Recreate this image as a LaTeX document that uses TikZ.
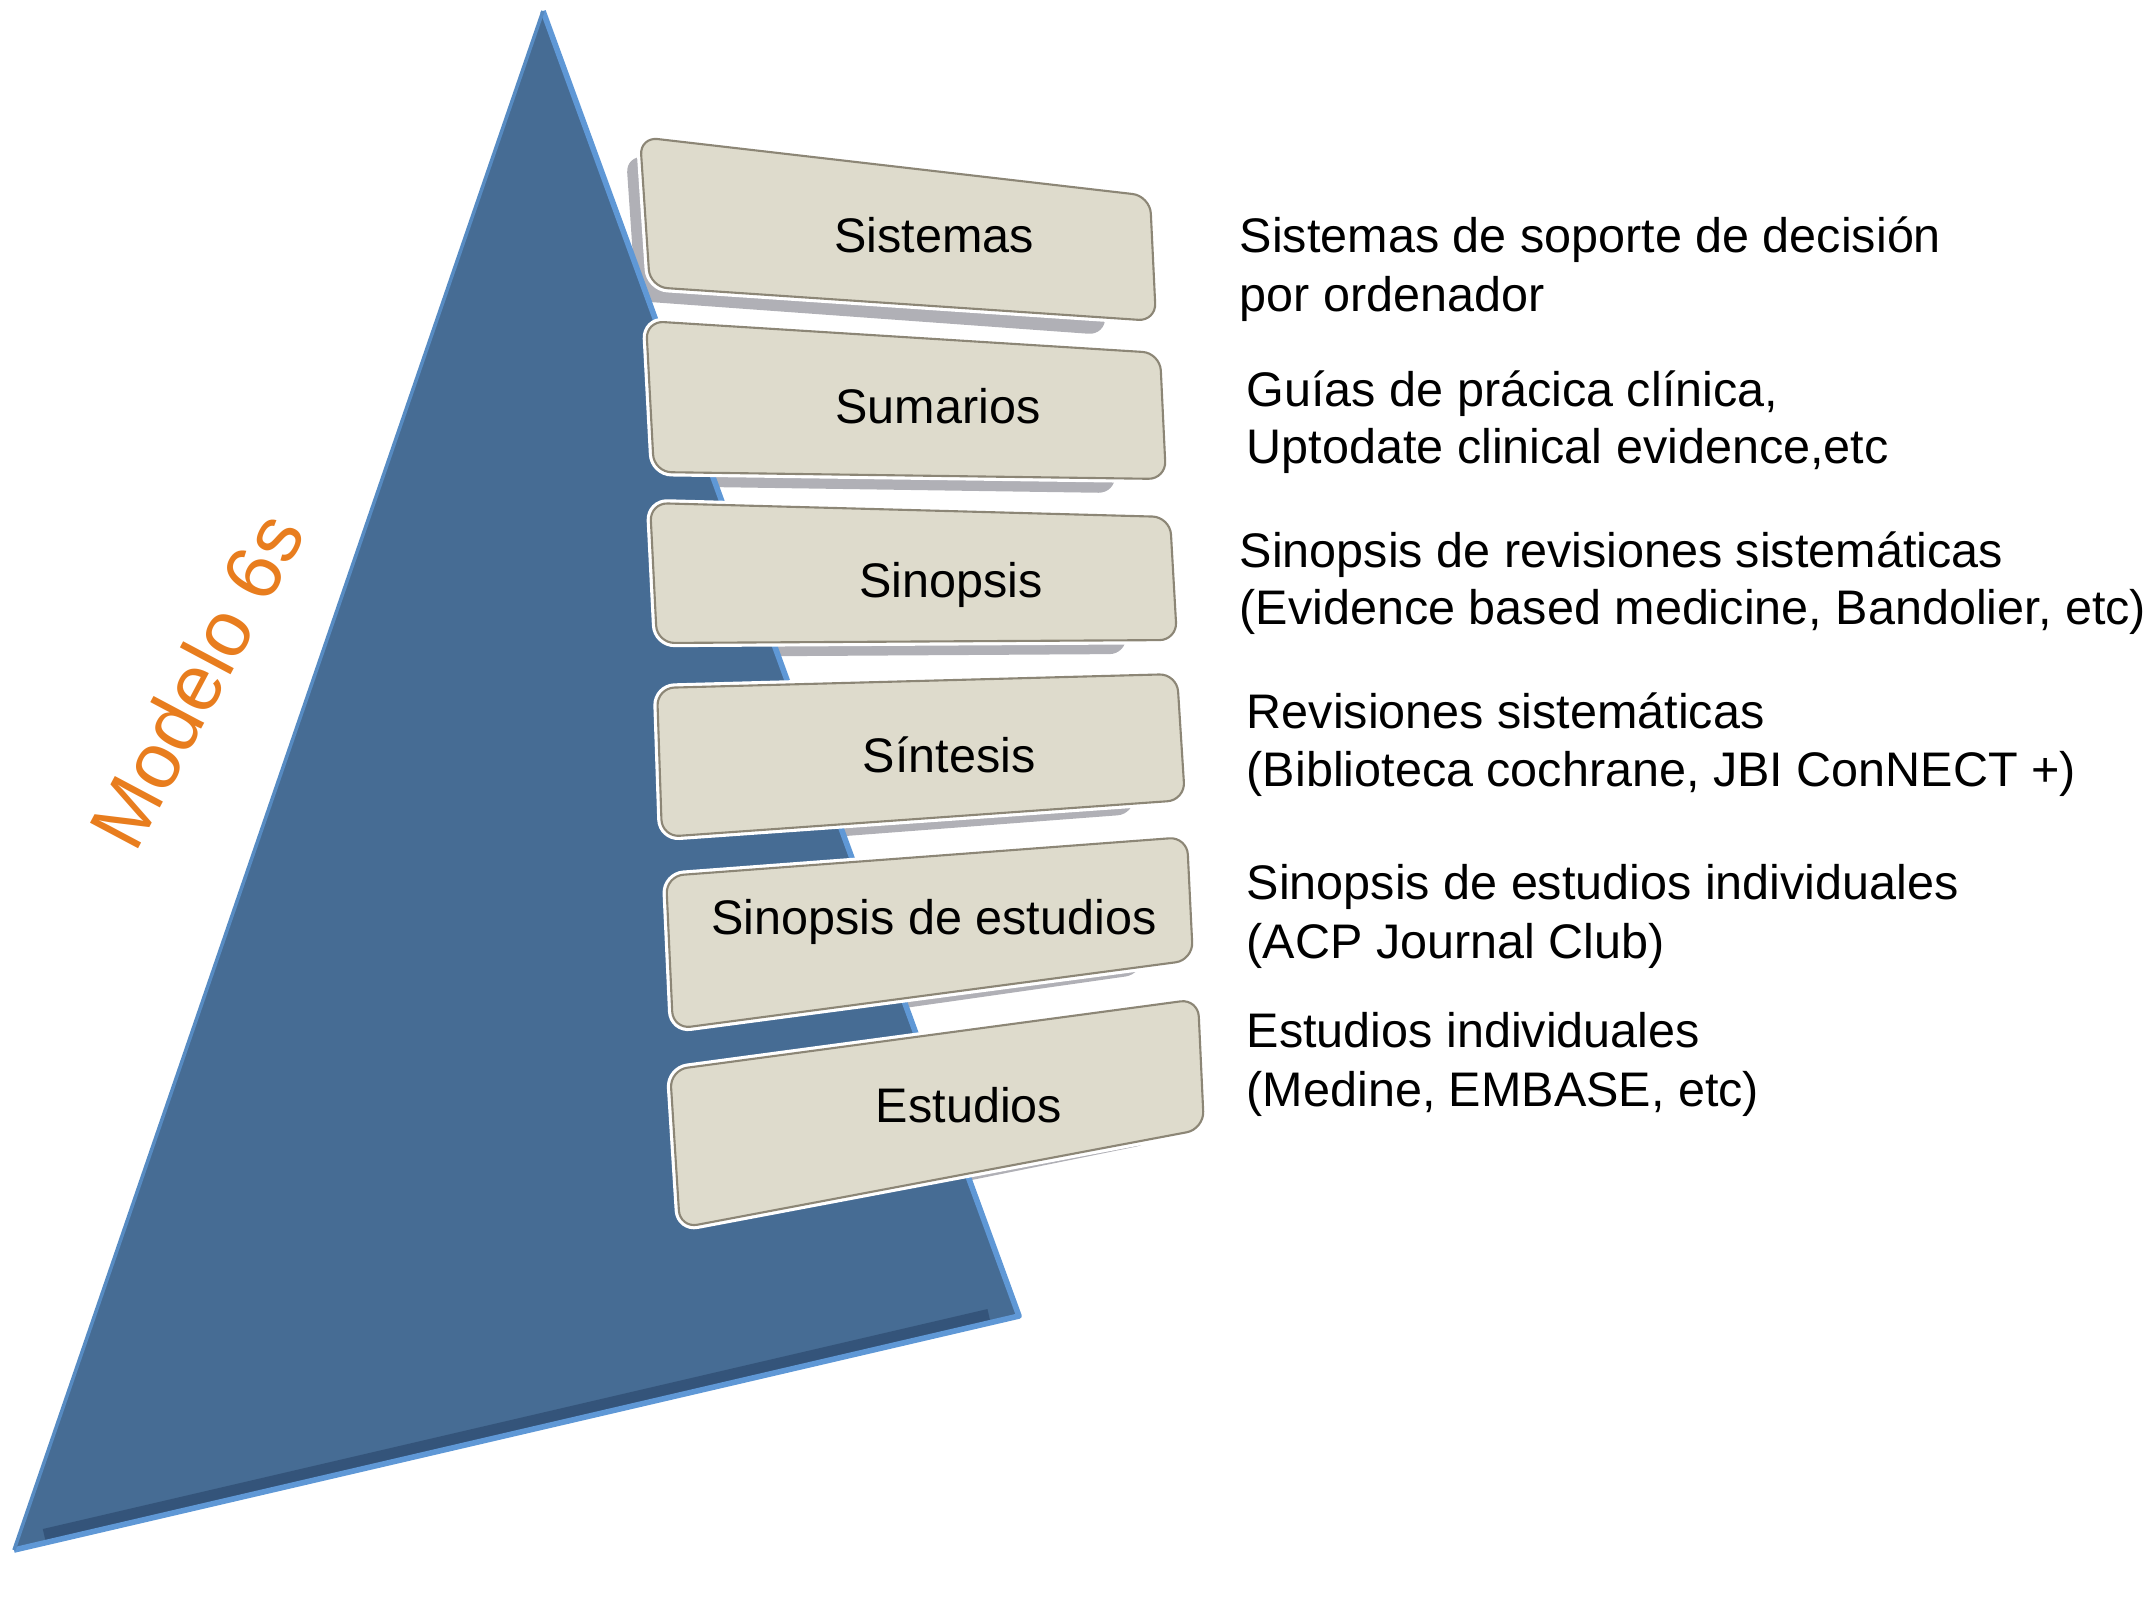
\documentclass[tikz,border=0pt]{standalone}
\usepackage{fontspec}
\setmainfont{Liberation Sans}
\usetikzlibrary{calc}
\definecolor{triblue}{RGB}{70,108,148}
\definecolor{trilight}{RGB}{95,152,214}
\definecolor{tridark}{RGB}{36,62,98}
\definecolor{boxfill}{RGB}{222,219,204}
\definecolor{boxline}{RGB}{140,134,118}
\definecolor{shadowgray}{RGB}{176,176,182}
\definecolor{modelo}{RGB}{232,125,30}
\newcommand\lvlshadow[4]{%
  \fill[shadowgray,rounded corners=5pt] ($(#1)+(-14,18)$) -- ($(#2)+(-50,18)$) -- ($(#3)+(-50,14)$) -- ($(#4)+(-14,14)$) -- cycle;
}
\newcommand\lvlbox[4]{%
  \draw[white,line width=2.4pt,rounded corners=5pt] (#1) -- (#2) -- (#3) -- (#4) -- cycle;
  \filldraw[fill=boxfill,draw=boxline,line width=0.6pt,rounded corners=5pt] (#1) -- (#2) -- (#3) -- (#4) -- cycle;
}
\begin{document}
\begin{tikzpicture}[x=0.01cm,y=-0.01cm,
  desc/.style={anchor=base west,inner sep=0pt,font=\fontsize{13.8pt}{16.5pt}\selectfont},
  lbl/.style={anchor=base,inner sep=0pt,font=\fontsize{13.8pt}{16.5pt}\selectfont}]
\useasboundingbox (0,0) rectangle (2145,1602);
% shadows of the boxes (behind the pyramid)
\lvlshadow{640,137}{1150,196}{1156,321}{650,287}
\lvlshadow{646,321}{1160,353}{1166,479}{654,472}
\lvlshadow{650,503}{1170,517}{1177,640}{657,643}
\lvlshadow{657,688}{1177,674}{1185,800}{662,837}
\lvlshadow{666,876}{1187,837}{1193,960}{673,1029}
\lvlshadow{670,1070}{1198,999}{1204,1129}{680,1228}
% pyramid
\coordinate (apex) at (543,11);
\coordinate (bl) at (14,1550);
\coordinate (br) at (1019,1316);
\fill[triblue] (apex) -- (bl) -- (br) -- cycle;
\draw[tridark,line width=3.5pt,opacity=0.5] ($(bl)!0.03!(br)+(0,-8)$) -- ($(br)!0.03!(bl)+(0,-8)$);
\draw[trilight,line width=1.6pt,line join=round] (bl) -- (br) -- (apex);
\draw[trilight!70!triblue,line width=1pt] (apex) -- (bl);
% boxes
\lvlbox{640,137}{1150,196}{1156,321}{650,287}
\lvlbox{646,321}{1160,353}{1166,479}{654,472}
\lvlbox{650,503}{1170,517}{1177,640}{657,643}
\lvlbox{657,688}{1177,674}{1185,800}{662,837}
\lvlbox{666,876}{1187,837}{1193,960}{673,1029}
\lvlbox{670,1070}{1198,999}{1204,1129}{680,1228}
\node[lbl] (l1) at (934,252) {Sistemas};
\node[lbl] (l2) at (938,423) {Sumarios};
\node[lbl] (l3) at (951,597) {Sinopsis};
\node[lbl] (l4) at (949,772) {Síntesis};
\node[lbl] (l5) at (934,934) {Sinopsis de estudios};
\node[lbl] (l6) at (969,1122) {Estudios};
% title
\node[rotate=62,text=modelo,inner sep=0pt,font=\fontsize{22.5pt}{26pt}\selectfont] (title) at (196,680) {Modelo 6s};
% descriptions
\node[desc] (d1a) at (1239,252) {Sistemas de soporte de decisión};
\node[desc] (d1b) at (1239,311) {por ordenador};
\node[desc] (d2a) at (1246,406) {Guías de prácica clínica,};
\node[desc] (d2b) at (1246,463) {Uptodate clinical evidence,etc};
\node[desc] (d3a) at (1239,567) {Sinopsis de revisiones sistemáticas};
\node[desc] (d3b) at (1239,624) {(Evidence based medicine, Bandolier, etc)};
\node[desc] (d4a) at (1246,728) {Revisiones sistemáticas};
\node[desc] (d4b) at (1246,786) {(Biblioteca cochrane, JBI ConNECT +)};
\node[desc] (d5a) at (1246,899) {Sinopsis de estudios individuales};
\node[desc] (d5b) at (1246,958) {(ACP Journal Club)};
\node[desc] (d6a) at (1246,1047) {Estudios individuales};
\node[desc] (d6b) at (1246,1106) {(Medine, EMBASE, etc)};
\end{tikzpicture}
\end{document}
